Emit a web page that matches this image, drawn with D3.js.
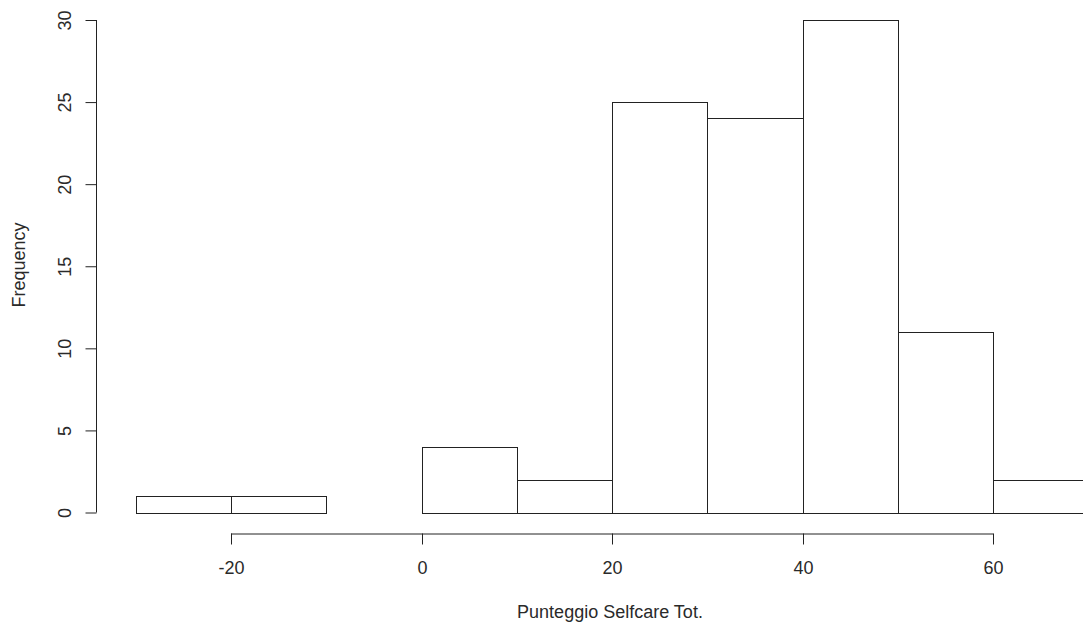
<!DOCTYPE html>
<html>
<head>
<meta charset="utf-8">
<script src="https://cdn.jsdelivr.net/npm/d3@7"></script>
<style>
  html, body { margin: 0; padding: 0; background: #fff; }
  svg { display: block; font-family: "Liberation Sans", Arial, sans-serif; }
</style>
</head>
<body>
<svg id="chart" width="1083" height="630"></svg>
<script>
// Histogram bins (lower edge, upper edge) and counts
const binStarts = [-30, -20, -10, 0, 10, 20, 30, 40, 50, 60];
const binEnds   = [-20, -10, 0, 10, 20, 30, 40, 50, 60, 70];
const counts    = [1, 1, 0, 4, 2, 25, 24, 30, 11, 2];
const xTicks = [-20, 0, 20, 40, 60];
const yTicks = [0, 5, 10, 15, 20, 25, 30];
const xTitle = "Punteggio Selfcare Tot.";
const yTitle = "Frequency";

const svg = d3.select("#chart");
const ink = "#222";
const textInk = "#2a2a2a";
const fontSize = 18;
const fmt = d => String(d);   // plain hyphen for negatives

const x = d3.scaleLinear().domain([-20, 60]).range([231, 993.3]);
const y = d3.scaleLinear().domain([0, 30]).range([512.5, 20]);

// Bars
svg.append("g")
  .selectAll("rect")
  .data(counts.map((c, i) => ({ x0: binStarts[i], x1: binEnds[i], n: c })))
  .join("rect")
  .attr("x", d => Math.round(x(d.x0)) + 0.5)
  .attr("y", d => Math.round(y(d.n)) + 0.5)
  .attr("width", d => Math.round(x(d.x1)) - Math.round(x(d.x0)))
  .attr("height", d => Math.round(y(0)) - Math.round(y(d.n)))
  .attr("fill", "#fff")
  .attr("stroke", ink)
  .attr("stroke-width", 1);

// X axis, detached below the bars
const xAxisY = 533.5;
const gx = svg.append("g").attr("transform", `translate(0,${xAxisY})`);
gx.call(d3.axisBottom(x).tickValues(xTicks).tickSize(11).tickFormat(fmt))
  .call(g => g.select(".domain").attr("stroke", ink).attr("d", `M${x(-20)},0.5H${x(60)}`))
  .call(g => g.selectAll(".tick line").attr("stroke", ink))
  .call(g => g.selectAll(".tick text").attr("fill", textInk).attr("font-size", fontSize)
    .attr("font-family", "Liberation Sans, Arial, sans-serif")
    .attr("y", 40.5).attr("dy", null));
gx.selectAll(".tick").attr("transform", d => `translate(${Math.round(x(d)) + 0.5},0)`);

// Y axis with labels rotated parallel to the axis
const yAxisX = 96.5;
const gy = svg.append("g").attr("transform", `translate(${yAxisX},0)`);
gy.call(d3.axisLeft(y).tickValues(yTicks).tickSize(11).tickFormat(fmt))
  .call(g => g.select(".domain").attr("stroke", ink).attr("d", `M0,${y(0)}V${y(30)}`))
  .call(g => g.selectAll(".tick line").attr("stroke", ink))
  .call(g => g.selectAll(".tick text").attr("fill", textInk).attr("font-size", fontSize)
    .attr("font-family", "Liberation Sans, Arial, sans-serif")
    .attr("x", 0).attr("y", 0).attr("dy", null)
    .attr("text-anchor", "middle")
    .attr("transform", "translate(-25.5,0) rotate(-90)"));

// Axis titles
svg.append("text")
  .attr("x", 610).attr("y", 618)
  .attr("text-anchor", "middle")
  .attr("font-size", fontSize).attr("fill", textInk)
  .text(xTitle);

svg.append("text")
  .attr("transform", "translate(25,265) rotate(-90)")
  .attr("text-anchor", "middle")
  .attr("font-size", fontSize).attr("fill", textInk)
  .text(yTitle);
</script>
</body>
</html>
